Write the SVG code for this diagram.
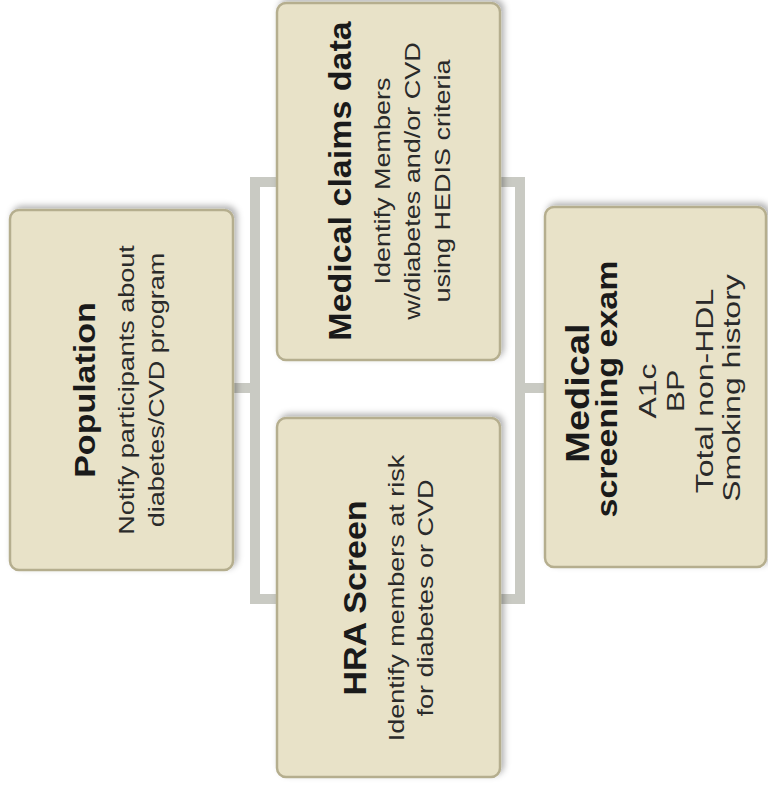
<svg xmlns="http://www.w3.org/2000/svg" width="768" height="788" viewBox="0 0 768 788">
<defs>
<filter id="sh" x="-10%" y="-10%" width="125%" height="125%">
<feDropShadow dx="3" dy="-3" stdDeviation="3" flood-color="#000" flood-opacity="0.3"/>
</filter>
<style>
.box{fill:#e8e2c8;stroke:#b5ae8e;stroke-width:2.5;filter:url(#sh)}
.con{fill:none;stroke:#c9cac3;stroke-width:10;stroke-linejoin:miter;stroke-linecap:butt}
.t{font-family:"Liberation Sans",Arial,sans-serif;font-weight:bold;font-size:34px;fill:#1a1a1a;text-anchor:middle}
.b{font-family:"Liberation Sans",Arial,sans-serif;font-size:27px;fill:#2a2a2a;text-anchor:middle}
.s{font-family:"Liberation Sans",Arial,sans-serif;font-size:32px;fill:#2a2a2a;text-anchor:middle}
</style>
</defs>
<rect width="768" height="788" fill="#ffffff"/>
<g id="connectors">
<path class="con" d="M277,182 H255 V599 H277"/>
<path class="con" d="M233,388 H255"/>
<path class="con" d="M500,182 H520 V599 H500"/>
<path class="con" d="M520,388 H545"/>
</g>
<g id="population">
<rect class="box" x="10" y="210" width="223" height="360" rx="9"/>
<text class="t" transform="translate(95,390) scale(0.88,1) rotate(-90)">Population</text>
<text class="b" transform="translate(134,390) scale(0.8,1) rotate(-90)">Notify participants about</text>
<text class="b" transform="translate(164,390) scale(0.8,1) rotate(-90)">diabetes/CVD program</text>
</g>
<g id="claims">
<rect class="box" x="277" y="3" width="223" height="357" rx="9"/>
<text class="t" transform="translate(351,181) scale(0.92,1) rotate(-90)">Medical claims data</text>
<text class="b" transform="translate(390,181) scale(0.8,1) rotate(-90)">Identify Members</text>
<text class="b" transform="translate(420,181) scale(0.8,1) rotate(-90)">w/diabetes and/or CVD</text>
<text class="b" transform="translate(450,181) scale(0.8,1) rotate(-90)">using HEDIS criteria</text>
</g>
<g id="hra">
<rect class="box" x="277" y="418" width="223" height="359" rx="9"/>
<text class="t" transform="translate(366,598) scale(0.92,1) rotate(-90)">HRA Screen</text>
<text class="b" transform="translate(404,598) scale(0.8,1) rotate(-90)">Identify members at risk</text>
<text class="b" transform="translate(433,598) scale(0.8,1) rotate(-90)">for diabetes or CVD</text>
</g>
<g id="screening">
<rect class="box" x="545" y="207" width="221" height="360" rx="9"/>
<text class="t" transform="translate(589,393) scale(0.88,1) rotate(-90)" style="font-size:38px">Medical</text>
<text class="t" transform="translate(617,389) scale(0.88,1) rotate(-90)">screening exam</text>
<text class="s" transform="translate(656,391) scale(0.72,1) rotate(-90)">A1c</text>
<text class="s" transform="translate(684,391) scale(0.72,1) rotate(-90)">BP</text>
<text class="s" transform="translate(713,391) scale(0.72,1) rotate(-90)">Total non-HDL</text>
<text class="s" transform="translate(740,388) scale(0.72,1) rotate(-90)">Smoking history</text>
</g>
</svg>
